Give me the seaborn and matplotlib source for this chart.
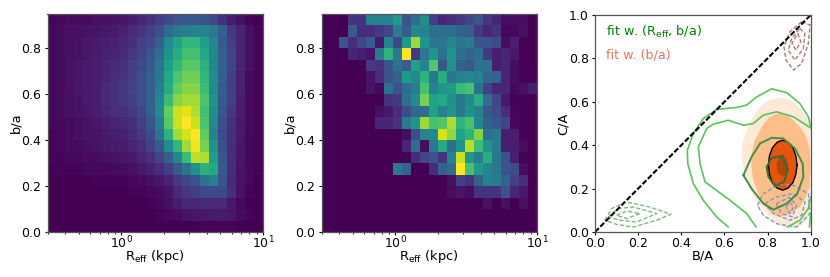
import numpy as np
import pandas as pd
import matplotlib
matplotlib.use('Agg')
import matplotlib.pyplot as plt
import seaborn as sns

# 2D histograms, rows listed from the top (b/a 0.90-0.95) down to b/a 0.00-0.05
left_hist = [
    [1, 2, 3, 3, 3, 4, 4, 5, 6, 8, 10, 14, 18, 22, 26, 28, 28, 26, 22, 14, 8, 4, 1, 0],
    [2, 3, 4, 4, 5, 5, 6, 7, 9, 12, 15, 19, 24, 34, 40, 42, 44, 44, 40, 30, 16, 10, 4, 1],
    [2, 3, 4, 5, 6, 7, 8, 9, 11, 14, 18, 22, 30, 48, 58, 66, 66, 56, 46, 28, 18, 10, 4, 1],
    [2, 3, 4, 5, 6, 7, 9, 10, 12, 16, 20, 26, 35, 52, 62, 70, 70, 60, 46, 30, 20, 10, 4, 1],
    [2, 3, 5, 6, 7, 8, 10, 12, 14, 18, 22, 28, 38, 56, 66, 74, 74, 64, 46, 30, 20, 10, 4, 1],
    [2, 3, 5, 6, 7, 8, 10, 13, 15, 19, 24, 30, 40, 60, 72, 78, 78, 66, 48, 30, 18, 9, 3, 1],
    [2, 3, 4, 6, 7, 8, 11, 14, 16, 20, 24, 30, 42, 62, 76, 82, 82, 68, 48, 28, 18, 9, 3, 1],
    [2, 3, 4, 5, 7, 8, 11, 14, 16, 19, 24, 30, 46, 68, 82, 86, 86, 72, 50, 28, 18, 8, 3, 1],
    [2, 3, 4, 5, 6, 8, 10, 13, 14, 17, 22, 30, 48, 76, 92, 96, 88, 70, 48, 26, 16, 8, 3, 1],
    [2, 2, 3, 4, 5, 6, 8, 10, 11, 14, 18, 26, 42, 74, 92, 100, 92, 72, 46, 24, 14, 7, 3, 1],
    [1, 2, 3, 4, 5, 5, 7, 8, 9, 11, 16, 22, 38, 64, 86, 94, 100, 76, 44, 22, 13, 7, 2, 1],
    [1, 2, 3, 3, 4, 5, 6, 7, 8, 10, 13, 19, 28, 48, 66, 86, 98, 80, 50, 24, 13, 6, 2, 1],
    [1, 1, 2, 2, 3, 3, 4, 5, 6, 7, 10, 14, 20, 30, 46, 68, 90, 88, 56, 26, 13, 6, 2, 1],
    [0, 1, 1, 1, 2, 2, 2, 3, 3, 4, 6, 9, 13, 18, 28, 38, 50, 64, 60, 28, 13, 5, 2, 1],
    [0, 0, 0, 0, 0, 1, 1, 1, 1, 2, 3, 4, 6, 10, 16, 20, 25, 38, 44, 26, 12, 5, 2, 0],
    [0, 0, 0, 0, 0, 0, 0, 0, 0, 1, 1, 2, 3, 5, 11, 16, 18, 22, 22, 22, 14, 5, 1, 0],
    [0, 0, 0, 0, 0, 0, 0, 0, 0, 0, 0, 1, 2, 4, 8, 11, 11, 12, 12, 11, 6, 2, 0, 0],
    [0, 0, 0, 0, 0, 0, 0, 0, 0, 0, 0, 0, 1, 2, 3, 5, 6, 6, 7, 7, 6, 3, 1, 0],
    [0, 0, 0, 0, 0, 0, 0, 0, 0, 0, 0, 0, 0, 0, 0, 0, 0, 1, 1, 1, 1, 0, 0, 0],
]

mid_hist = [
    [0, 0, 0, 14, 14, 42, 42, 42, 52, 25, 35, 47, 18, 10, 12, 16, 20, 25, 15, 10, 3, 3, 3, 0],
    [0, 0, 0, 27, 12, 12, 16, 20, 40, 28, 45, 42, 35, 35, 35, 30, 28, 15, 10, 14, 2, 2, 4, 0],
    [0, 0, 25, 12, 20, 27, 6, 42, 20, 52, 82, 50, 38, 38, 44, 38, 40, 25, 25, 22, 3, 8, 1, 0],
    [0, 0, 0, 10, 8, 5, 40, 62, 40, 100, 15, 38, 50, 36, 50, 35, 30, 34, 16, 8, 10, 6, 1, 0],
    [0, 0, 0, 0, 0, 16, 14, 25, 36, 28, 55, 42, 70, 25, 48, 30, 26, 36, 36, 8, 10, 3, 1, 0],
    [0, 0, 0, 0, 0, 5, 12, 24, 30, 52, 46, 62, 38, 60, 38, 42, 44, 42, 32, 30, 10, 3, 1, 1],
    [0, 0, 0, 0, 0, 5, 2, 36, 24, 34, 40, 68, 42, 50, 52, 65, 68, 36, 18, 10, 10, 2, 4, 8],
    [0, 0, 0, 0, 0, 0, 0, 14, 16, 36, 46, 76, 56, 58, 48, 38, 46, 60, 34, 20, 6, 1, 1, 0],
    [0, 0, 0, 0, 0, 0, 4, 6, 12, 22, 32, 34, 54, 42, 50, 38, 48, 42, 26, 22, 12, 2, 1, 0],
    [0, 0, 0, 0, 0, 0, 10, 10, 14, 40, 50, 82, 68, 70, 84, 62, 68, 44, 30, 26, 20, 2, 1, 0],
    [0, 0, 0, 0, 0, 0, 0, 0, 0, 3, 22, 42, 44, 90, 80, 56, 62, 78, 35, 38, 8, 8, 1, 0],
    [0, 0, 0, 0, 0, 0, 0, 0, 0, 10, 34, 3, 38, 58, 35, 50, 86, 66, 50, 40, 8, 8, 3, 0],
    [0, 0, 0, 0, 0, 0, 0, 0, 0, 1, 12, 20, 24, 14, 42, 88, 50, 40, 60, 38, 24, 8, 1, 0],
    [0, 0, 0, 0, 0, 0, 0, 0, 38, 30, 0, 0, 12, 30, 34, 100, 68, 52, 44, 38, 25, 22, 3, 0],
    [0, 0, 0, 0, 0, 0, 0, 0, 0, 0, 0, 0, 0, 0, 4, 18, 14, 30, 42, 40, 30, 18, 12, 0],
    [0, 0, 0, 0, 0, 0, 0, 0, 0, 0, 0, 0, 0, 0, 3, 5, 3, 14, 14, 14, 24, 10, 6, 0],
    [0, 0, 0, 0, 0, 0, 0, 0, 0, 0, 0, 0, 0, 0, 0, 0, 0, 0, 4, 0, 4, 0, 4, 0],
    [0] * 24,
    [0] * 24,
]

# Contours of the right panel
light_fill_x = [.842, .875, .91, .95, .98, 1.0, 1.0, 1.0, .97, .93, .889, .84, .796, .755, .719, .695, .68, .685, .703, .73, .765, .80]
light_fill_y = [.618, .618, .605, .57, .53, .485, .30, .085, .04, .02, .015, .04, .085, .135, .19, .26, .346, .41, .469, .525, .577, .605]
mid_fill_x = [.866, .91, .95, .978, .994, 1.0, .994, .975, .95, .905, .858, .815, .78, .755, .734, .725, .726, .74, .765, .788, .811, .84]
mid_fill_y = [.55, .525, .485, .44, .39, .30, .208, .155, .115, .085, .07, .09, .13, .18, .238, .30, .36, .42, .469, .505, .53, .545]
ell_x = [.937, .931, .917, .895, .870, .845, .823, .809, .804, .809, .823, .845, .870, .895, .917, .931]
ell_y = [.308, .352, .389, .414, .423, .414, .389, .352, .308, .264, .227, .202, .193, .202, .227, .264]
core_x = [.87, .89, .90, .89, .87, .85, .84, .85]
core_y = [.36, .335, .29, .265, .255, .27, .31, .345]

outer_x = [.618, .564, .502, .456, .43, .428, .456, .502, .564, .657, .703, .75, .819, .889, .95, .989, 1.0]
outer_y = [.023, .069, .146, .223, .315, .377, .454, .523, .565, .574, .585, .623, .66, .642, .592, .531, .485]
outer_low_x = [1.0, .994]
outer_low_y = [.085, .023]
inner_x = [.747, .703, .626, .51, .487, .479, .518, .549, .618, .688, .734, .78, .842, .92, .981, 1.0]
inner_y = [.023, .085, .146, .231, .315, .392, .477, .497, .515, .492, .5, .538, .554, .531, .492, .48]
inner_low_x = [.892, .95, .989, 1.0]
inner_low_y = [.023, .054, .108, .162]
dark_x = [.688, .726, .765, .819, .873, .927, .963, .966, .938, .889, .827, .78, .726, .688]
dark_y = [.262, .346, .408, .434, .431, .385, .315, .254, .177, .131, .103, .131, .2, .262]
darker_x = [.796, .819, .866, .893, .876, .835, .804, .796]
darker_y = [.3, .342, .351, .285, .231, .211, .254, .3]

blue_contours = [
    ([.753, .78, .858, .92, .989, .997, .935, .842, .781, .753], [.123, .177, .22, .215, .177, .085, .023, .038, .077, .123]),
    ([.788, .842, .92, .974, .958, .904, .827, .788], [.131, .162, .177, .138, .077, .054, .085, .131]),
    ([.84, .90, .935, .915, .865, .84], [.13, .16, .125, .07, .085, .13]),
    ([.886, .904, .92, .904, .886], [.115, .138, .115, .085, .115]),
]
brown_contours = [
    ([.958, .997, .989, .958, .92, .886, .876, .904, .958], [.969, .954, .869, .777, .746, .792, .854, .923, .969]),
    ([.95, .973, .966, .927, .896, .912, .95], [.938, .915, .846, .792, .838, .892, .938]),
    ([.94, .954, .932, .913, .94], [.915, .877, .838, .869, .915]),
]
green_contours = [
    ([.046, .077, .147, .255, .352, .286, .178, .1, .046], [.054, .108, .138, .115, .082, .054, .023, .035, .054]),
    ([.062, .108, .178, .286, .193, .116, .062], [.069, .108, .115, .085, .046, .054, .069]),
    ([.1, .147, .209, .147, .1], [.077, .097, .085, .062, .077]),
]

diag = [0.0, 1.0]
ba_ticks = [0.0, 0.2, 0.4, 0.6, 0.8]
unit_ticks = [0.0, 0.2, 0.4, 0.6, 0.8, 1.0]

sns.set_style('ticks')
plt.rcParams['mathtext.default'] = 'regular'
plt.rcParams['axes.edgecolor'] = '#555555'
plt.rcParams['axes.linewidth'] = 0.9
plt.rcParams['xtick.major.size'] = 2.5
plt.rcParams['ytick.major.size'] = 2.5
plt.rcParams['xtick.minor.size'] = 1.3
plt.rcParams['xtick.color'] = 'black'
plt.rcParams['ytick.color'] = 'black'
plt.rcParams['axes.labelcolor'] = 'black'
plt.rcParams['text.color'] = 'black'
plt.rcParams['ytick.major.pad'] = 2
TICK_FS = 9
LABEL_FS = 9.4

fig = plt.figure(figsize=(8.3, 2.77), dpi=100)
W, H = 830.0, 277.0


def px_axes(x0, x1, y0, y1):
    return fig.add_axes([x0 / W, (H - y1) / H, (x1 - x0) / W, (y1 - y0) / H])


def draw_hist(ax, values, vmax):
    # long table of bin centres + weights, let histplot do the log binning
    arr = np.array(values, dtype=float)[::-1]
    lx = np.linspace(np.log10(0.3), 1, 25)
    ly = np.linspace(0, 0.95, 20)
    cx = 10 ** ((lx[:-1] + lx[1:]) / 2)
    cy = (ly[:-1] + ly[1:]) / 2
    xx, yy = np.meshgrid(cx, cy)
    df = pd.DataFrame({'reff': xx.ravel(), 'ba': yy.ravel(), 'w': arr.ravel()})
    sns.histplot(df, x='reff', y='ba', weights='w', bins=(24, 19),
                 binrange=((np.log10(0.3), 1), (0, 0.95)), log_scale=(True, False),
                 thresh=None, cmap='viridis', vmin=0, vmax=vmax, ax=ax)
    ax.set_xlim(0.3, 10)
    ax.set_ylim(0, 0.95)
    ax.set_yticks(ba_ticks)
    ax.tick_params(labelsize=TICK_FS)
    ax.tick_params(axis='x', pad=-0.5)
    ax.set_xlabel(r'R$_{\rm eff}$ (kpc)', fontsize=LABEL_FS, labelpad=-2.5)
    ax.set_ylabel('b/a', fontsize=LABEL_FS, labelpad=-1)


ax1 = px_axes(47.5, 263, 14, 232)
draw_hist(ax1, left_hist, 100)
ax2 = px_axes(321.5, 537, 14, 232)
draw_hist(ax2, mid_hist, 96)

ax3 = px_axes(595, 810.7, 15, 232)
ax3.fill(light_fill_x, light_fill_y, color='#fee8d6', lw=0)
ax3.fill(mid_fill_x, mid_fill_y, color='#fdbe87', lw=0)
ax3.fill(ell_x, ell_y, color='#e6550d', lw=0)
ax3.fill(core_x, core_y, color='#b4460c', lw=0)


def curve(x, y, color, lw=1.2, ls='-'):
    sns.lineplot(x=x, y=y, sort=False, estimator=None, color=color, lw=lw, linestyle=ls, ax=ax3)


curve(ell_x + ell_x[:1], ell_y + ell_y[:1], 'black', lw=1.0)
for cx_, cy_ in blue_contours:
    curve(cx_, cy_, '#7f97c9', lw=1.0, ls=(0, (3, 1.5)))
for cx_, cy_ in brown_contours:
    curve(cx_, cy_, '#ae7b76', lw=1.0, ls=(0, (3, 1.5)))
for cx_, cy_ in green_contours:
    curve(cx_, cy_, '#7dbb7d', lw=1.0, ls=(0, (3, 1.5)))
curve(outer_x, outer_y, '#5cc45c')
curve(outer_low_x, outer_low_y, '#5cc45c')
curve(inner_x, inner_y, '#5cc45c')
curve(inner_low_x, inner_low_y, '#5cc45c')
curve(dark_x, dark_y, '#3f8f4a', lw=1.4)
curve(darker_x, darker_y, '#2c6e3c', lw=1.4)
curve(diag, diag, 'black', lw=1.5, ls=(0, (2.6, 1)))

ax3.text(0.05, 0.905, r'fit w. (R$_{\rm eff}$, b/a)', color='green', fontsize=TICK_FS + 0.2)
ax3.text(0.05, 0.80, 'fit w. (b/a)', color='#f0705f', fontsize=TICK_FS + 0.2)
ax3.set_xlim(0, 1)
ax3.set_ylim(0, 1)
ax3.set_xticks(unit_ticks)
ax3.set_yticks(unit_ticks)
ax3.tick_params(labelsize=TICK_FS)
ax3.tick_params(axis='x', pad=1)
ax3.set_xlabel('B/A', fontsize=LABEL_FS, labelpad=0)
ax3.set_ylabel('C/A', fontsize=LABEL_FS, labelpad=-1)

fig.savefig('out.png', dpi=100)
